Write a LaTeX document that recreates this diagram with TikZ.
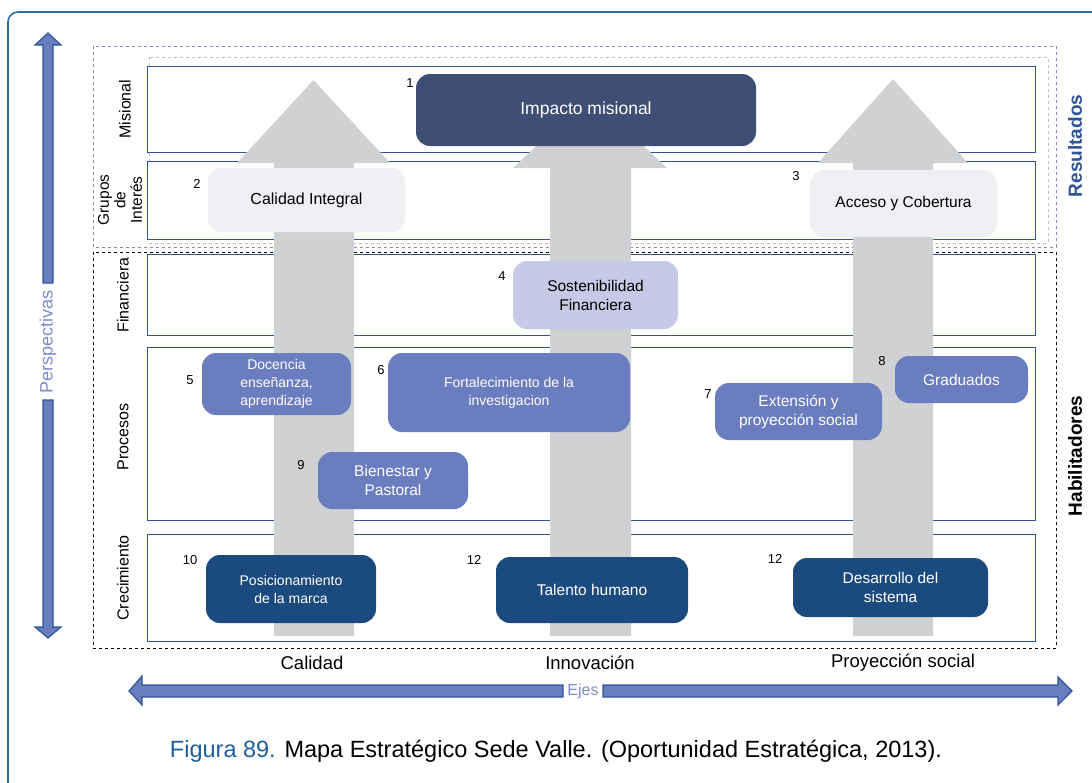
\documentclass[tikz,border=0pt]{standalone}
\usepackage{fontspec}
\setmainfont{Liberation Sans}
\usepackage{xcolor}
\usepackage{tikz}
\usetikzlibrary{positioning}
\definecolor{frameblue}{HTML}{2E6DA4}
\definecolor{rowblue}{HTML}{2F5597}
\definecolor{axisfill}{HTML}{6A7DBF}
\definecolor{softblue}{HTML}{7C8CCB}
\definecolor{arrowgray}{HTML}{D0D1D3}
\definecolor{slate}{HTML}{3E4E74}
\definecolor{mist}{HTML}{EFEFF4}
\definecolor{lavender}{HTML}{C6CAE6}
\definecolor{navy}{HTML}{1B4A7E}
\definecolor{figblue}{HTML}{1F5FA0}
\newcommand{\pxfont}[2]{\fontsize{#1}{#2}\selectfont}

\begin{document}
\begin{tikzpicture}[x=1pt, y=-1pt, every node/.style={font=\pxfont{15.5}{19}, align=center}, row/.style={draw=rowblue,line width=1.3pt,fill=white,anchor=north west,inner sep=0pt}, goal/.style={rounded corners=14pt,inner sep=2pt}, resbox/.style={goal,fill=mist,text=black}, finbox/.style={goal,fill=lavender,text=black}, procbox/.style={goal,fill=axisfill,text=white}, growbox/.style={goal,fill=navy,text=white}, num/.style={font=\pxfont{13}{15}}, persp/.style={rotate=90,font=\pxfont{16}{17},align=center}, axis/.style={fill=axisfill,draw=rowblue,line width=1.2pt,line join=miter}, axislabel/.style={font=\pxfont{18.5}{20}}, side/.style={rotate=90,font=\bfseries\pxfont{19}{20}}]
\useasboundingbox (0,0) rectangle (1092,782);
\draw[frameblue,line width=1.6pt,rounded corners=10pt] (8,790) -- (8,12) -- (1100,12);
% perspective groups
\draw[softblue,dashed,line width=1pt] (93,46) rectangle (1056,247);
\draw[gray!50,dashed,line width=1pt] (149,57) rectangle (1048,243);
\draw[black,dashed,line width=1pt] (93,252) rectangle (1056,648);
\node[row,minimum width=888pt,minimum height=86pt] (misional) at (147,66) {};
\node[row,minimum width=888pt,minimum height=78pt] (grupos) at (147,161) {};
\node[row,minimum width=888pt,minimum height=81pt] (financiera) at (147,254) {};
\node[row,minimum width=888pt,minimum height=173pt] (procesos) at (147,347) {};
\node[row,minimum width=888pt,minimum height=107pt] (crecimiento) at (147,534) {};
% big gray arrows
\fill[arrowgray] (274,636) -- (274,163) -- (237,163) -- (313.5,80) -- (390,163) -- (354,163) -- (354,636) -- cycle;
\fill[arrowgray] (550,636) -- (550,168) -- (513,168) -- (590,95) -- (667,168) -- (631,168) -- (631,636) -- cycle;
\fill[arrowgray] (853,636) -- (853,163) -- (818,163) -- (893,79) -- (968,163) -- (933,163) -- (933,636) -- cycle;
% objectives
\node[goal,fill=slate,text=white,font=\pxfont{17.5}{20},minimum width=340pt,minimum height=72pt] (impacto) at (586,110) {Impacto misional};
\node[resbox,font=\pxfont{16}{19},minimum width=197pt,minimum height=64pt] (calidad) at (306.5,200) {Calidad Integral};
\node[resbox,minimum width=187pt,minimum height=67pt] (acceso) at (903.5,203.5) {Acceso y Cobertura};
\node[finbox,minimum width=165pt,minimum height=68pt] (sosten) at (595.5,295) {Sostenibilidad\\Financiera};
\node[procbox,font=\pxfont{14}{18},minimum width=149pt,minimum height=62pt] (docencia) at (276.5,384) {Docencia\\enseñanza,\\aprendizaje};
\node[procbox,font=\pxfont{14}{18},minimum width=242pt,minimum height=79pt] (investig) at (509,392.5) {Fortalecimiento de la\\investigacion};
\node[procbox,minimum width=167pt,minimum height=57pt] (extension) at (798.5,411.5) {Extensión y\\proyección social};
\node[procbox,minimum width=133pt,minimum height=47pt] (graduados) at (961.5,379.5) {Graduados};
\node[procbox,minimum width=150pt,minimum height=57pt] (bienestar) at (393,480.5) {Bienestar y\\Pastoral};
\node[growbox,font=\pxfont{14}{18},minimum width=170pt,minimum height=68pt] (marca) at (291,589) {Posicionamiento\\de la marca};
\node[growbox,minimum width=192pt,minimum height=66pt] (talento) at (592,590) {Talento humano};
\node[growbox,minimum width=195pt,minimum height=59pt] (desarrollo) at (890.5,587.5) {Desarrollo del\\sistema};
% numbers
\node[num] (n1) at (410,83) {1};
\node[num] (n2) at (197,184) {2};
\node[num] (n3) at (796,176) {3};
\node[num] (n4) at (502,276) {4};
\node[num] (n5) at (190,380) {5};
\node[num] (n6) at (381,370) {6};
\node[num] (n7) at (708,394) {7};
\node[num] (n8) at (882,361) {8};
\node[num] (n9) at (301,465) {9};
\node[num] (n10) at (190,560) {10};
\node[num] (n11) at (474,560) {12};
\node[num] (n12) at (775,559) {12};
% row labels
\node[persp] (lmisional) at (125,109) {Misional};
\node[persp,inner sep=0pt,font=\pxfont{15.5}{16.5}] (lgrupos) at (120,200) {Grupos\\de\\Interés};
\node[persp] (lfinanciera) at (123,295) {Financiera};
\node[persp] (lprocesos) at (123,437) {Procesos};
\node[persp] (lcrecimiento) at (123,578) {Crecimiento};
\node[side,text=rowblue] (resultados) at (1075,146) {Resultados};
\node[side] (habilit) at (1075,456) {Habilitadores};
% perspectives axis
\draw[axis] (43,283) -- (43,45) -- (35,45) -- (48,33) -- (61,45) -- (53,45) -- (53,283) -- cycle;
\draw[axis] (43,400) -- (43,627) -- (35,627) -- (48,638) -- (61,627) -- (53,627) -- (53,400) -- cycle;
\node[rotate=90,text=softblue,font=\pxfont{18}{20}] (perspectivas) at (48,342) {Perspectivas};
% axes
\draw[axis] (563,685) -- (142,685) -- (142,676) -- (129,691) -- (142,705) -- (142,697) -- (563,697) -- cycle;
\draw[axis] (603,685) -- (1058,685) -- (1058,677) -- (1072,691) -- (1058,705) -- (1058,697) -- (603,697) -- cycle;
\node[text=softblue,font=\pxfont{16}{18}] (ejes) at (583,691) {Ejes};
\node[axislabel] (ecalidad) at (312,663) {Calidad};
\node[axislabel] (einnov) at (590,663) {Innovación};
\node[axislabel] (eproy) at (903,663) {Proyección social};
\node[font=\pxfont{23.5}{26}] (caption) at (556,751) {\textcolor{figblue}{Figura 89.} Mapa Estratégico Sede Valle. (Oportunidad Estratégica, 2013).};
\end{tikzpicture}
\end{document}
